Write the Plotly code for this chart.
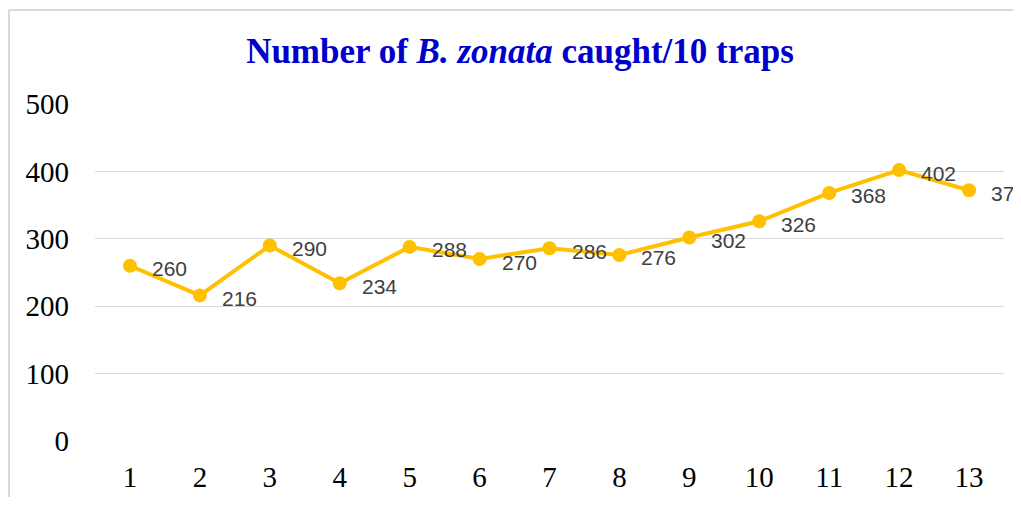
import plotly.graph_objects as go

trap_rounds = list(range(1, 14))
catches = [260, 216, 290, 234, 288, 270, 286, 276, 302, 326, 368, 402, 372]
y_ticks = [0, 100, 200, 300, 400, 500]

# page body has an 8px margin; figure is sized/offset so the plot lands where the reference has it
OFF = 8
W, H = 1021 - OFF, 505 - 2 * OFF
ML, MR, MT = 95 - OFF, 17, 104 - OFF
MB = H - (441 - OFF)
PW, PH = W - ML - MR, H - MT - MB

fig = go.Figure()
fig.add_trace(go.Scatter(
    x=trap_rounds, y=catches, mode="lines+markers",
    line=dict(color="#FFC000", width=4),
    marker=dict(color="#FFC000", size=14),
    hoverinfo="x+y", showlegend=False, cliponaxis=False,
))

for xv, yv in zip(trap_rounds, catches):
    fig.add_annotation(
        x=xv, y=yv, text=str(yv), showarrow=False,
        xanchor="left", yanchor="middle", xshift=20, yshift=-3,
        font=dict(family="Liberation Sans, Arial, sans-serif", size=21, color="#404040"),
    )

def px_to_paper_x(px):
    return (px - OFF - ML) / PW

def px_to_paper_y(py):
    return 1 - (py - OFF - MT) / PH

# outer chart border (light grey, cut off at right/bottom as in the reference)
fig.add_shape(type="line", xref="paper", yref="paper",
              x0=px_to_paper_x(9), x1=px_to_paper_x(1040),
              y0=px_to_paper_y(10), y1=px_to_paper_y(10),
              line=dict(color="#D9D9D9", width=2))
fig.add_shape(type="line", xref="paper", yref="paper",
              x0=px_to_paper_x(9), x1=px_to_paper_x(9),
              y0=px_to_paper_y(10), y1=px_to_paper_y(530),
              line=dict(color="#D9D9D9", width=2))

fig.update_layout(
    width=W, height=H,
    margin=dict(l=ML, r=MR, t=MT, b=MB, autoexpand=False),
    paper_bgcolor="white", plot_bgcolor="white",
    title=dict(
        text="<b>Number of <i>B. zonata</i> caught/10 traps</b>",
        x=(520 - OFF) / W, xanchor="center",
        y=1 - (51 - OFF) / H, yanchor="middle",
        font=dict(family="Liberation Serif, Times New Roman, serif", size=35, color="#0000CC"),
    ),
    xaxis=dict(
        range=[0.5, 13.5], tickmode="array", tickvals=trap_rounds,
        ticktext=[str(v) for v in trap_rounds],
        showgrid=False, zeroline=False, showline=False, ticks="",
        ticklabelstandoff=16, automargin=False,
        tickfont=dict(family="Liberation Serif, Times New Roman, serif", size=29, color="#000000"),
    ),
    yaxis=dict(
        range=[0, 500], tickmode="array", tickvals=y_ticks,
        showgrid=True, gridcolor="#D9D9D9", gridwidth=1,
        zeroline=False, showline=False, ticks="",
        ticklabelstandoff=25, automargin=False,
        tickfont=dict(family="Liberation Serif, Times New Roman, serif", size=29, color="#000000"),
    ),
)

fig.write_html("out.html")
